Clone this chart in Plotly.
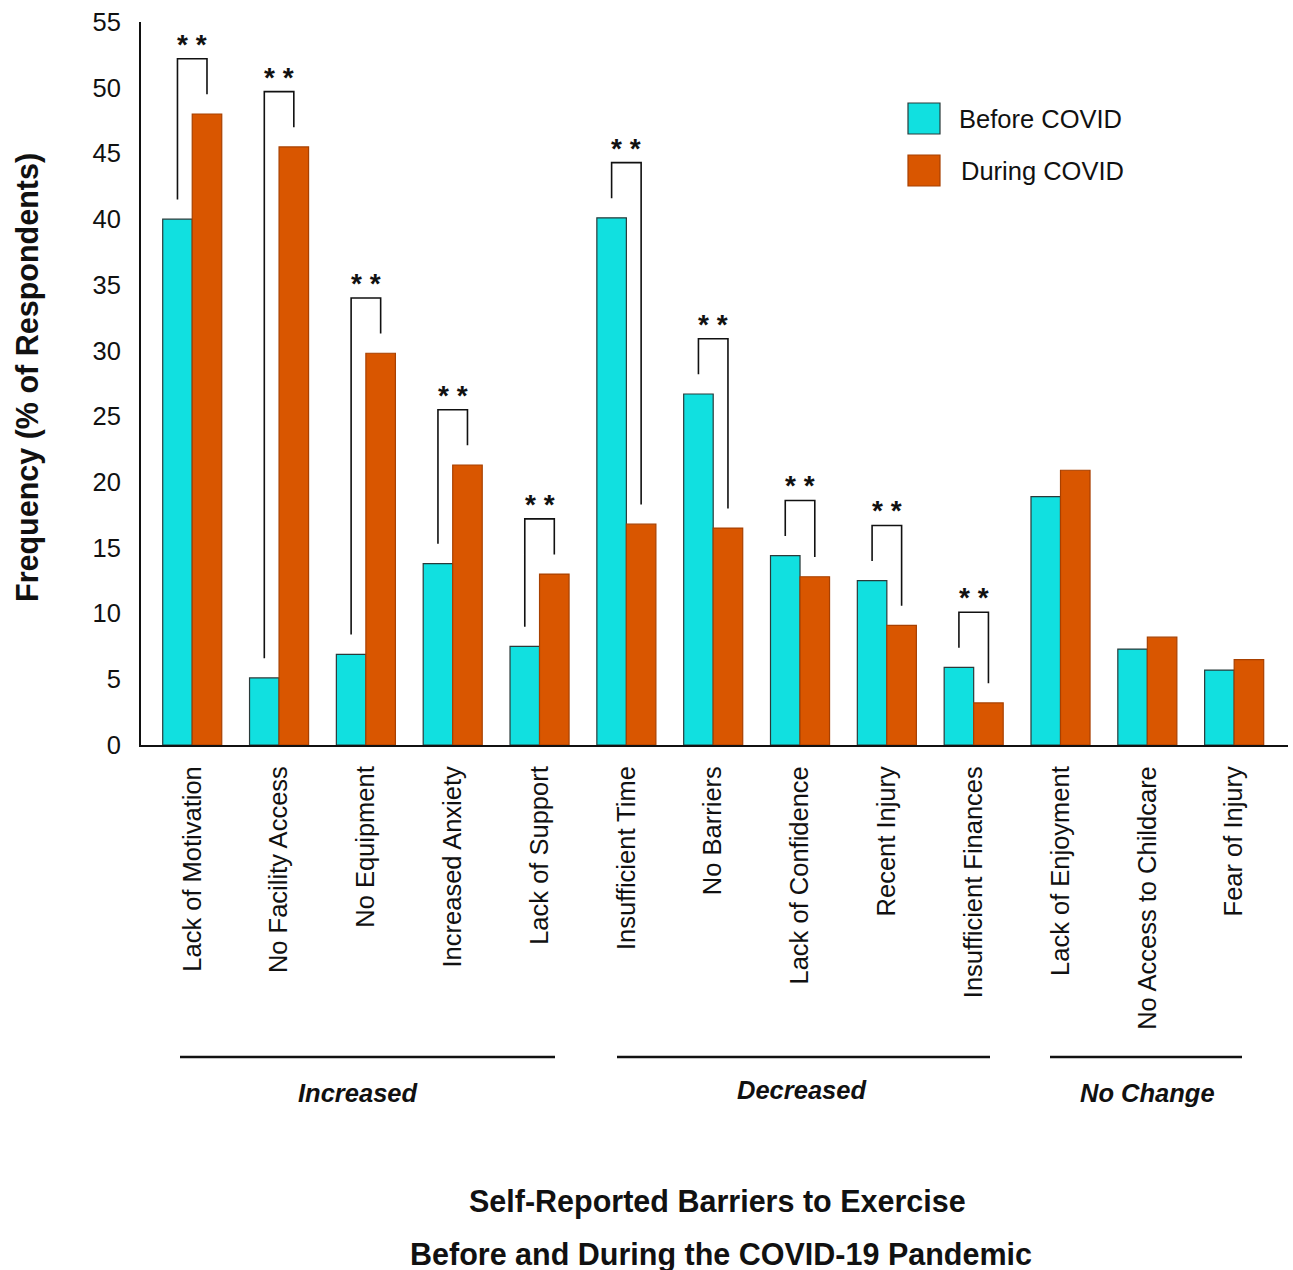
import plotly.graph_objects as go

categories = ["Lack of Motivation", "No Facility Access", "No Equipment", "Increased Anxiety",
              "Lack of Support", "Insufficient Time", "No Barriers", "Lack of Confidence",
              "Recent Injury", "Insufficient Finances", "Lack of Enjoyment",
              "No Access to Childcare", "Fear of Injury"]
before = [40.0, 5.1, 6.9, 13.8, 7.5, 40.1, 26.7, 14.4, 12.5, 5.9, 18.9, 7.3, 5.7]
during = [48.0, 45.5, 29.8, 21.3, 13.0, 16.8, 16.5, 12.8, 9.1, 3.2, 20.9, 8.2, 6.5]
significant = [True] * 10 + [False] * 3
groups = ["Increased", "Decreased", "No Change"]

CYAN = "#11E0E0"
ORANGE = "#D95600"
FONT = "Liberation Sans, Arial, sans-serif"

L, R, T, B = 141, 5, 22, 525
W, H = 1293, 1270
PW, PH = W - L - R, H - T - B

def px(xp):
    return (xp - L) / PW

def py(yp):
    return (H - B - yp) / PH

xs = list(range(len(categories)))
bargap = 0.32
bw = (1 - bargap) / 2

fig = go.Figure()
fig.add_trace(go.Bar(x=xs, y=before, name="Before COVID", marker=dict(color=CYAN, line=dict(color="#2a3a3a", width=1.2))))
fig.add_trace(go.Bar(x=xs, y=during, name="During COVID", marker=dict(color=ORANGE, line=dict(color="#A84000", width=1.2))))

shapes = []
annotations = []
line = dict(color="#111", width=1.6)
for i, sig in enumerate(significant):
    if not sig:
        continue
    xl, xr = i - bw / 2, i + bw / 2
    top = max(before[i], during[i]) + 4.2
    shapes.append(dict(type="path", xref="x", yref="y",
                       path=f"M {xl} {before[i] + 1.5} L {xl} {top} L {xr} {top} L {xr} {during[i] + 1.5}",
                       line=line))
    annotations.append(dict(x=i, y=top, xref="x", yref="y", text="<b>* *</b>", showarrow=False,
                            xanchor="center", yanchor="bottom", yshift=-3,
                            font=dict(size=28, color="#111", family=FONT)))

# group lines and labels
group_px = [(180, 555, 358, 1093), (617, 990, 802, 1090), (1050, 1242, 1147, 1093)]
for name, (x0, x1, xlab, ylab) in zip(groups, group_px):
    shapes.append(dict(type="line", xref="paper", yref="paper", x0=px(x0), x1=px(x1),
                       y0=py(1057), y1=py(1057), line=dict(color="#111", width=2.5)))
    annotations.append(dict(x=px(xlab), y=py(ylab), xref="paper", yref="paper",
                            text=f"<b><i>{name}</i></b>", showarrow=False,
                            xanchor="center", yanchor="middle",
                            font=dict(size=25.5, color="#111", family=FONT)))

# legend (manual)
shapes.append(dict(type="rect", xref="paper", yref="paper", x0=px(908), x1=px(940), y0=py(134), y1=py(103),
                   fillcolor=CYAN, line=dict(color="#2a3a3a", width=1.2)))
shapes.append(dict(type="rect", xref="paper", yref="paper", x0=px(908), x1=px(940), y0=py(186), y1=py(155),
                   fillcolor=ORANGE, line=dict(color="#A84000", width=1.2)))
annotations.append(dict(x=px(957), y=py(119), xref="paper", yref="paper", text="Before COVID",
                        showarrow=False, xanchor="left", yanchor="middle",
                        font=dict(size=25.5, color="#111", family=FONT)))
annotations.append(dict(x=px(959), y=py(171), xref="paper", yref="paper", text="During COVID",
                        showarrow=False, xanchor="left", yanchor="middle",
                        font=dict(size=25.5, color="#111", family=FONT)))

# axis title
annotations.append(dict(x=px(27), y=py(378), xref="paper", yref="paper",
                        text="<b>Frequency (% of Respondents)</b>", textangle=-90, showarrow=False,
                        xanchor="center", yanchor="middle",
                        font=dict(size=30.5, color="#111", family=FONT)))
# bottom title
annotations.append(dict(x=px(717), y=py(1201), xref="paper", yref="paper",
                        text="<b>Self-Reported Barriers to Exercise</b>", showarrow=False,
                        xanchor="center", yanchor="middle",
                        font=dict(size=30.5, color="#111", family=FONT)))
annotations.append(dict(x=px(721), y=py(1254), xref="paper", yref="paper",
                        text="<b>Before and During the COVID-19 Pandemic</b>", showarrow=False,
                        xanchor="center", yanchor="middle",
                        font=dict(size=30.5, color="#111", family=FONT)))

fig.update_layout(
    width=W, height=H,
    margin=dict(l=L, r=R, t=T, b=B, pad=0),
    barmode="group", bargap=bargap, bargroupgap=0,
    plot_bgcolor="white", paper_bgcolor="white",
    showlegend=False,
    font=dict(family=FONT, color="#111"),
    shapes=shapes, annotations=annotations,
)
fig.update_xaxes(range=[-0.59, 12.62], tickvals=xs, ticktext=categories, tickangle=-90,
                 showline=True, linecolor="#111", linewidth=2, showgrid=False, zeroline=False,
                 ticks="", tickfont=dict(size=25.5, color="#111"), ticklabelstandoff=9)
fig.update_yaxes(range=[0, 55], tickvals=list(range(0, 56, 5)), showline=True, linecolor="#111",
                 linewidth=2, showgrid=False, zeroline=False, ticks="",
                 tickfont=dict(size=25.5, color="#111"), ticklabelstandoff=13)

fig.write_html("out.html")
